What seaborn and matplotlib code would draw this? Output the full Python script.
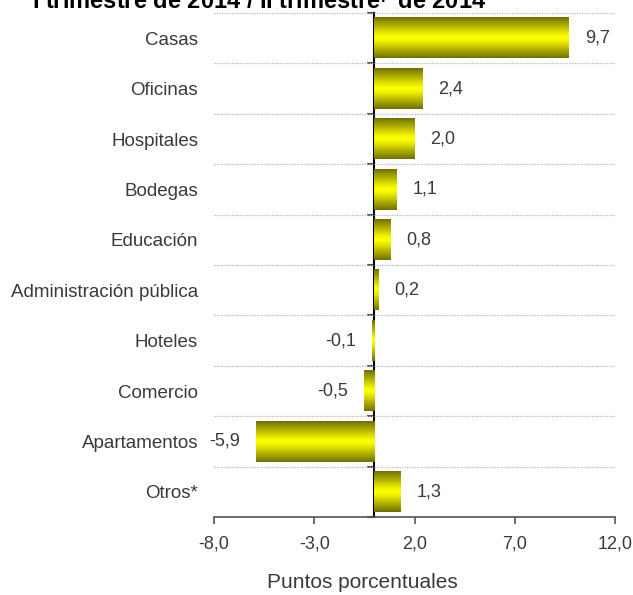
import numpy as np
import pandas as pd
import matplotlib
matplotlib.use("Agg")
import matplotlib.pyplot as plt
from matplotlib.colors import LinearSegmentedColormap
from matplotlib.ticker import FuncFormatter
import seaborn as sns

categories = ["Casas", "Oficinas", "Hospitales", "Bodegas", "Educación",
              "Administración pública", "Hoteles", "Comercio", "Apartamentos", "Otros*"]
values = [9.7, 2.4, 2.0, 1.1, 0.8, 0.2, -0.1, -0.5, -5.9, 1.3]
xticks = [-8.0, -3.0, 2.0, 7.0, 12.0]
title = "I trimestre de 2014 / II trimestre$^{\\mathbf{p}}$ de 2014"
xlabel = "Puntos porcentuales"

sns.set_style("white")
plt.rcParams['font.family'] = ['Liberation Sans', 'DejaVu Sans']
plt.rcParams['mathtext.fontset'] = 'custom'
plt.rcParams['mathtext.bf'] = 'Liberation Sans:bold'
txt = '#3a3a3a'

df = pd.DataFrame({"cat": categories, "val": values})

fig = plt.figure(figsize=(6.33, 5.95), dpi=100)
ax = fig.add_axes([214/633, 1-517/595, (615-214)/633, (517-13)/595])

sns.barplot(data=df, x="val", y="cat", orient="h", width=0.8,
            color="#ffff00", ax=ax, zorder=2)

# cylinder like shading of the bars
cmap = LinearSegmentedColormap.from_list("oliv", ["#717100", "#b0b000", "#ffff00"])
t = np.linspace(0, 1, 64)
shade = 1 - np.abs(2*t - 1)**1.3
grad = shade[:, None]
for p in ax.patches:
    x0, y0 = p.get_x(), p.get_y()
    w, h = p.get_width(), p.get_height()
    ax.imshow(grad, extent=[x0, x0+w, y0+h, y0], aspect='auto', cmap=cmap,
              vmin=0, vmax=1, zorder=3, interpolation='bilinear')
    p.set_alpha(0)

ax.set_xlim(xticks[0], xticks[-1])
ax.set_ylim(len(categories)-0.5, -0.5)

# value labels
for i, v in enumerate(values):
    s = f"{v:.1f}".replace('.', ',')
    if v >= 0:
        ax.annotate(s, (v, i), xytext=(11.5, 0), textcoords='offset points',
                    ha='left', va='center', fontsize=13, color=txt)
    else:
        ax.annotate(s, (v, i), xytext=(-11.5, 0), textcoords='offset points',
                    ha='right', va='center', fontsize=13, color=txt)

# gridlines between categories
bounds = np.arange(len(categories)+1) - 0.5
ax.set_yticks(bounds, minor=True)
ax.grid(axis='y', which='minor', ls=(0, (1, 1)), color='#b8b8b8', lw=0.9)
ax.grid(axis='y', which='major', visible=False)
ax.tick_params(axis='y', which='both', length=0, pad=11.5, labelsize=13.5, labelcolor=txt)
ax.set_ylabel("")
ax.set_xlabel("")

ax.set_xticks(xticks)
ax.xaxis.set_major_formatter(FuncFormatter(lambda v, _: f"{v:.1f}".replace('.', ',')))
ax.tick_params(axis='x', length=5, width=1.2, color='#555555', direction='out',
               labelsize=13, labelcolor=txt, pad=8, bottom=True)
for sp in ['top', 'right', 'left']:
    ax.spines[sp].set_visible(False)
ax.spines['bottom'].set_color('#555555')
ax.spines['bottom'].set_linewidth(1.2)

# vertical axis at zero with ticks between categories
loc = (0 - xticks[0]) / (xticks[-1] - xticks[0])
sec = ax.secondary_yaxis(loc)
sec.set_yticks(bounds)
sec.set_yticklabels([])
sec.tick_params(axis='y', length=5, width=1.5, color='#555555', direction='out')
sec.spines['left'].set_color('black')
sec.spines['left'].set_linewidth(1.5)

fig.text(32/633, 1-9/595, title, fontsize=17, fontweight='bold',
         ha='left', va='baseline', color='black')
fig.text(362/633, 1-582/595, xlabel, fontsize=15, ha='center', va='center', color=txt)

fig.savefig("out.png", dpi=100)
